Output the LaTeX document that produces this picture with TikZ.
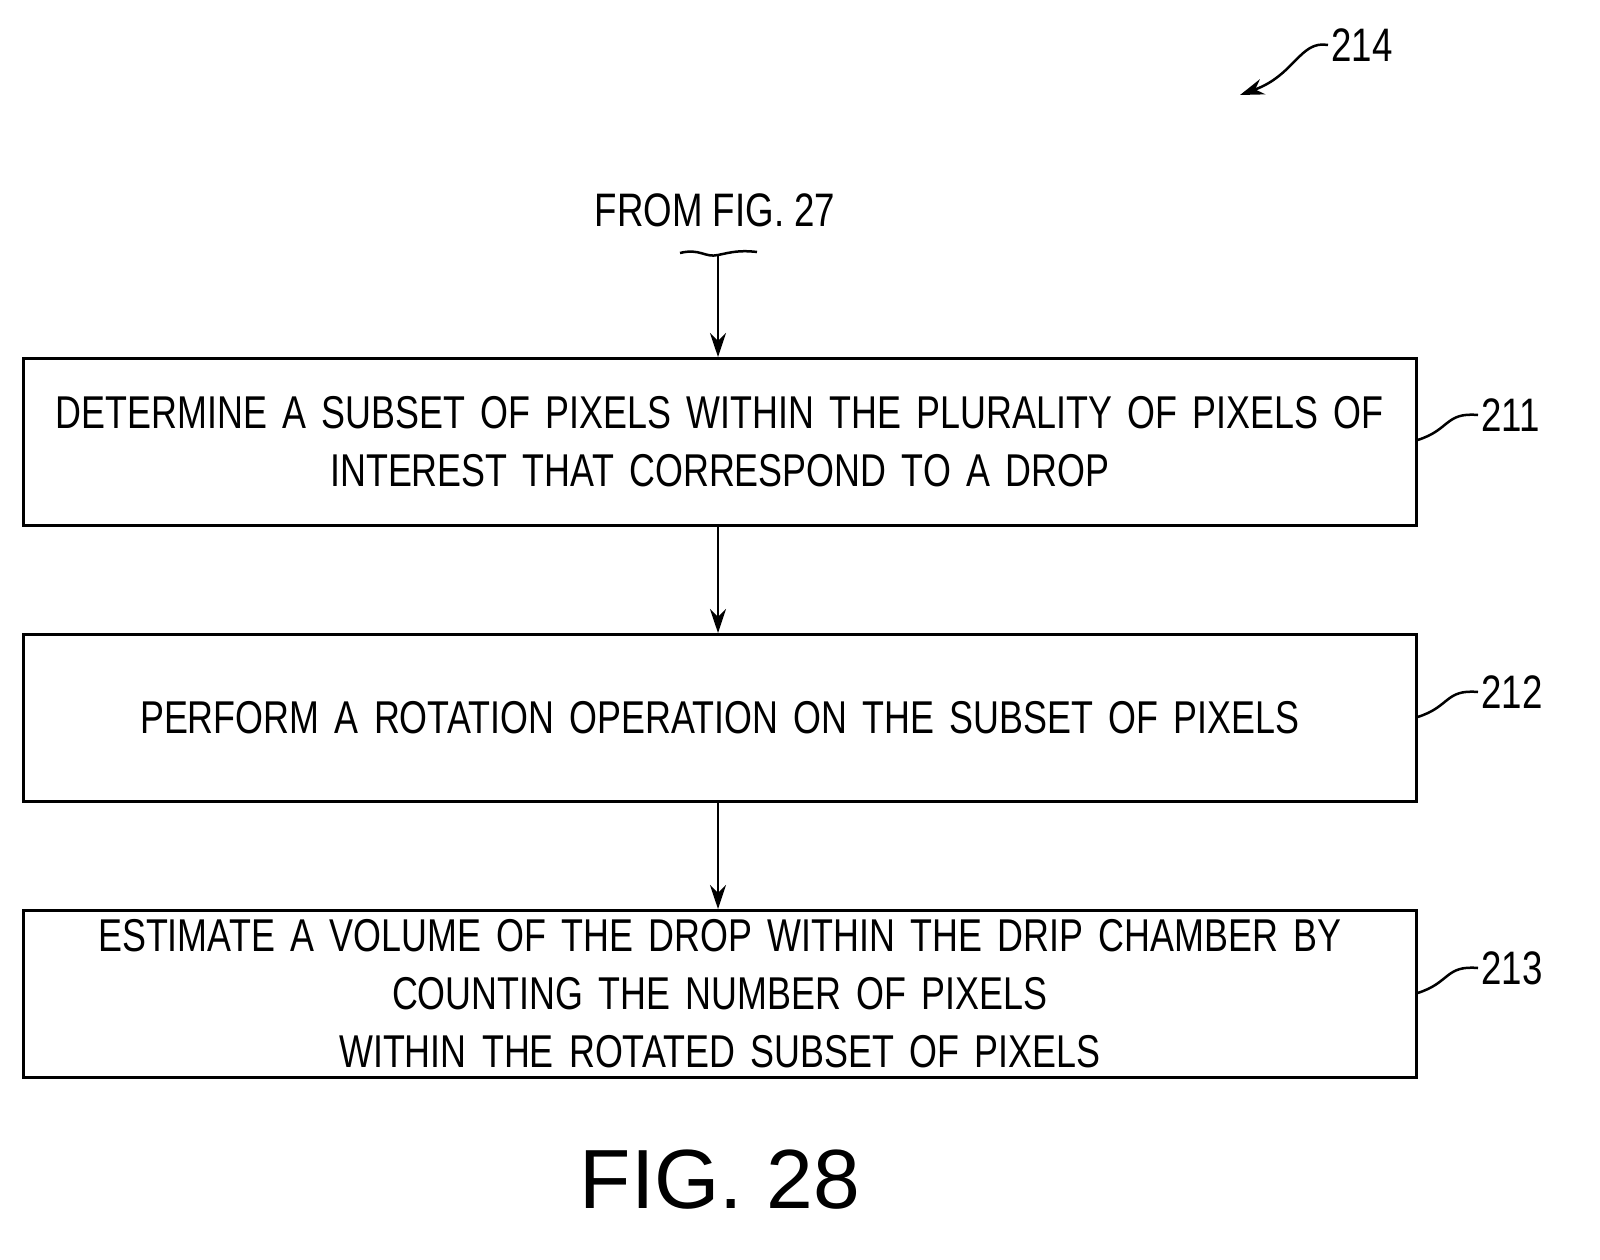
\documentclass[tikz,border=0pt]{standalone}
\usepackage{fontspec}
\setmainfont{Liberation Sans}[FakeStretch=0.78]
\newfontfamily\figfont{Liberation Sans}
\usetikzlibrary{arrows.meta}
\begin{document}
\begin{tikzpicture}[x=1pt,y=-1pt,
  box/.style={draw,line width=2.5pt,minimum width=1393pt,minimum height=167pt,anchor=north west,inner sep=0pt,text width=1385pt,align=center,font=\fontsize{46}{58}\selectfont},
  lbl/.style={font=\fontsize{47}{50}\selectfont,anchor=west},
  arr/.style={line width=2.5pt,-{Stealth[length=24pt,width=16pt]}},
  lead/.style={line width=2.5pt}]
\useasboundingbox (0,0) rectangle (1600,1259);
\node[box] (b1) at (22,357) {DETERMINE A SUBSET OF PIXELS WITHIN THE PLURALITY OF PIXELS OF\\INTEREST THAT CORRESPOND TO A DROP};
\node[box] (b2) at (22,633) {PERFORM A ROTATION OPERATION ON THE SUBSET OF PIXELS};
\node[box] (b3) at (22,909) {ESTIMATE A VOLUME OF THE DROP WITHIN THE DRIP CHAMBER BY\\COUNTING THE NUMBER OF PIXELS WITHIN THE ROTATED SUBSET OF PIXELS};
\node[font=\fontsize{47}{50}\selectfont] (from) at (715,210) {FROM FIG. 27};
\coordinate (s) at (718,255);
\draw[lead] (680,253) .. controls (700,248) and (705,258) .. (718,255) .. controls (732,252) and (740,250) .. (757,252);
\draw[arr] (s) -- (b1.north -| s);
\draw[arr] (b1.south -| s) -- (b2.north -| s);
\draw[arr] (b2.south -| s) -- (b3.north -| s);
\node[lbl] (l1) at (1478,415) {211};
\node[lbl] (l2) at (1478,692) {212};
\node[lbl] (l3) at (1478,968) {213};
\draw[lead] (b1.east |- 0,440) .. controls (1450,430) and (1445,412) .. (l1.west);
\draw[lead] (b2.east |- 0,717) .. controls (1450,707) and (1445,689) .. (l2.west);
\draw[lead] (b3.east |- 0,993) .. controls (1450,983) and (1445,965) .. (l3.west);
\node[lbl] (l4) at (1328,45) {214};
\coordinate (t) at (1240,95);
\draw[arr] (l4.west) .. controls (1300,40) and (1295,75) .. (t);
\node[font=\figfont\fontsize{84}{90}\selectfont] (fig) at (720,1180) {FIG. 28};
\end{tikzpicture}
\end{document}
